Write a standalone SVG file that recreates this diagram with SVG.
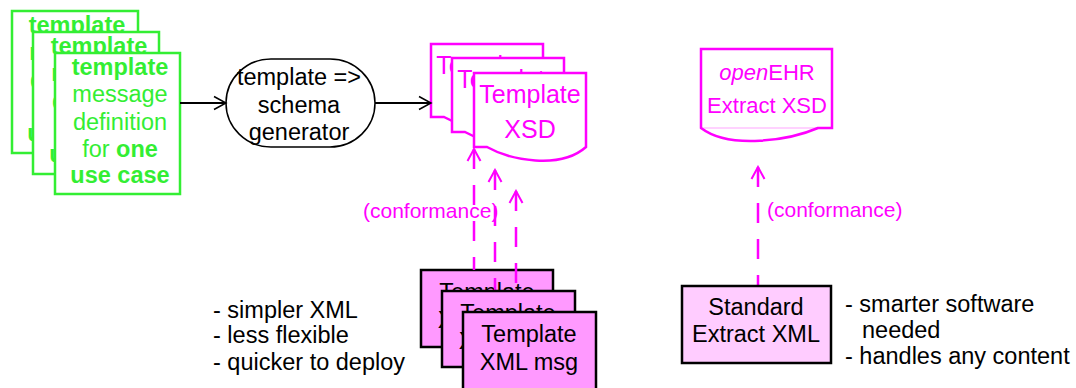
<svg xmlns="http://www.w3.org/2000/svg" width="1076" height="388" viewBox="0 0 1076 388">
<style>
text{font-family:"Liberation Sans",Arial,sans-serif;}
.g{fill:#ffffff;stroke:#33ee33;stroke-width:2.5;}
.gt{fill:#33ee33;font-size:23.5px;text-anchor:middle;}
.b{font-weight:bold;}
.doc{fill:#ffffff;stroke:#ff00ff;stroke-width:2.5;}
.dt{fill:#ff00ff;font-size:25px;text-anchor:middle;}
.msg{fill:#ff99ff;stroke:#000000;stroke-width:2.5;}
.std{fill:#ffccff;stroke:#000000;stroke-width:2.5;}
.kt{fill:#000000;font-size:23.5px;}
.c{text-anchor:middle;}
.conf{fill:#ff00ff;font-size:21px;}
.blk{stroke:#000000;stroke-width:2;fill:none;}
.dash{stroke:#ff00ff;stroke-width:2.5;fill:none;stroke-dasharray:20 16;}
</style>
<defs>
<marker id="ab" markerUnits="userSpaceOnUse" markerWidth="16" markerHeight="16" viewBox="-14 -8 16 16" refX="0" refY="0" orient="auto">
<path d="M-12,-6.5 L0,0 L-12,6.5" fill="none" stroke="#000000" stroke-width="1.5"/>
</marker>
<marker id="am" markerUnits="userSpaceOnUse" markerWidth="16" markerHeight="16" viewBox="-14 -8 16 16" refX="0" refY="0" orient="auto-start-reverse">
<path d="M-12,-6.5 L0,0 L-12,6.5" fill="none" stroke="#ff00ff" stroke-width="2" stroke-dasharray="none"/>
</marker>
</defs>
<rect width="1076" height="388" fill="#ffffff"/>

<g id="def1">
<rect class="g" x="12" y="11" width="126" height="142"/>
<text class="gt" x="77"><tspan class="b" x="77" y="33">template</tspan><tspan x="77" y="60">message</tspan><tspan x="77" y="88">definition</tspan><tspan x="77" y="115">for <tspan class="b">one</tspan></tspan><tspan class="b" x="77" y="141">use case</tspan></text>
</g>
<g id="def2">
<rect class="g" x="33" y="32" width="126" height="142"/>
<text class="gt" x="99"><tspan class="b" x="99" y="54">template</tspan><tspan x="99" y="81">message</tspan><tspan x="99" y="109">definition</tspan><tspan x="99" y="136">for <tspan class="b">one</tspan></tspan><tspan class="b" x="99" y="162">use case</tspan></text>
</g>
<g id="def3">
<rect class="g" x="55" y="53" width="125" height="141"/>
<text class="gt" x="120"><tspan class="b" x="120" y="75">template</tspan><tspan x="120" y="102">message</tspan><tspan x="120" y="130">definition</tspan><tspan x="120" y="157">for <tspan class="b">one</tspan></tspan><tspan class="b" x="120" y="183">use case</tspan></text>
</g>

<g id="generator">
<rect x="226" y="59" width="149" height="88" rx="45" ry="44" fill="#ffffff" stroke="#000000" stroke-width="1.5"/>
<text class="kt c" x="299"><tspan x="299" y="85">template =&gt;</tspan><tspan x="299" y="113">schema</tspan><tspan x="299" y="140">generator</tspan></text>
</g>

<g id="xsd1">
<path class="doc" d="M431,44 H543 V117 C517,140 467,130 444,117 H431 Z"/>
<text class="dt"><tspan x="487" y="74">Template</tspan><tspan x="487" y="109">XSD</tspan></text>
</g>
<g id="xsd2">
<path class="doc" d="M452,58 H564 V132 C538,155 488,145 465,132 H452 Z"/>
<text class="dt"><tspan x="508" y="88">Template</tspan><tspan x="508" y="123">XSD</tspan></text>
</g>
<g id="xsd3">
<path class="doc" d="M474,73 H586 V147 C560,170 510,160 487,147 H474 Z"/>
<text class="dt"><tspan x="530" y="103">Template</tspan><tspan x="530" y="138">XSD</tspan></text>
</g>

<g id="ehrxsd">
<path class="doc" d="M701,49 H832 V128 H818 C790,140 730,150 701,128 Z"/>
<line x1="701" y1="128" x2="818" y2="128" stroke="#ff00ff" stroke-width="1" opacity="0.35"/>
<text class="dt" style="font-size:22px"><tspan x="767" y="80"><tspan font-style="italic">open</tspan>EHR</tspan><tspan x="767" y="113">Extract XSD</tspan></text>
</g>

<g id="msg1">
<rect class="msg" x="421" y="270" width="132" height="77"/>
<text class="kt c"><tspan x="487" y="300">Template</tspan><tspan x="487" y="328">XML msg</tspan></text>
</g>

<g id="connectors">
<line class="blk" x1="180" y1="103" x2="226" y2="103" marker-end="url(#ab)"/>
<line class="blk" x1="375" y1="103" x2="431" y2="103" marker-end="url(#ab)"/>
<path class="dash" d="M474,149 V270" marker-start="url(#am)"/>
<path class="dash" d="M495,170 V291" marker-start="url(#am)"/>
<path class="dash" d="M516,191 V312" marker-start="url(#am)"/>
<path class="dash" d="M758,167 V286" marker-start="url(#am)"/>
<text class="conf" x="363" y="218">(conformance)</text>
<text class="conf" x="767" y="217">(conformance)</text>
</g>

<g id="msg2">
<rect class="msg" x="442" y="291" width="133" height="76"/>
<text class="kt c"><tspan x="508" y="321">Template</tspan><tspan x="508" y="349">XML msg</tspan></text>
</g>
<g id="msg3">
<rect class="msg" x="463" y="312" width="133" height="82"/>
<text class="kt c"><tspan x="529" y="342">Template</tspan><tspan x="529" y="370">XML msg</tspan></text>
</g>

<g id="stdxml">
<rect class="std" x="682" y="286" width="149" height="77"/>
<text class="kt c"><tspan x="756" y="315">Standard</tspan><tspan x="756" y="342">Extract XML</tspan></text>
</g>

<g id="notes-left">
<text class="kt"><tspan x="213" y="318">- simpler XML</tspan><tspan x="213" y="343">- less flexible</tspan><tspan x="213" y="370">- quicker to deploy</tspan></text>
</g>
<g id="notes-right">
<text class="kt"><tspan x="845" y="312">- smarter software</tspan><tspan x="862" y="338">needed</tspan><tspan x="845" y="364">- handles any content</tspan></text>
</g>
</svg>
